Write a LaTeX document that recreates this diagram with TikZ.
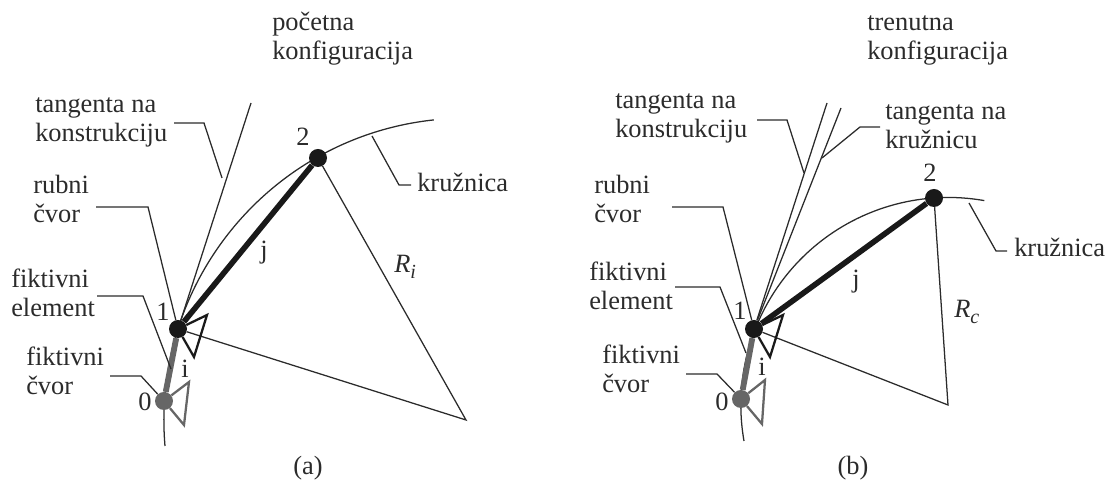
\documentclass[tikz,border=0pt]{standalone}
\usepackage{fontspec}
\setmainfont{Liberation Serif}
\usetikzlibrary{calc}
\definecolor{inkdark}{HTML}{2B2B2B}
\definecolor{inkgrey}{HTML}{666666}
\newcommand{\radlabel}[1]{\textit{R\raisebox{-4pt}{\fontsize{15}{15}\selectfont #1}}}
\tikzset{
	lbl/.style={anchor=base west, align=left, inner sep=0pt, text=inkdark, font=\fontsize{19.8}{22}\selectfont},
	num/.style={anchor=center, inner sep=0pt, text=inkdark, font=\fontsize{19.8}{22}\selectfont},
	thinline/.style={line width=0.95pt, color=inkdark},
	thickblack/.style={line width=4.2pt, color=black!90},
	thickgrey/.style={line width=4.4pt, color=inkgrey},
	triblack/.style={line width=1.7pt, color=black!90},
	trigrey/.style={line width=1.7pt, color=inkgrey},
	blackdot/.style={circle, fill=black!90, inner sep=0pt, minimum size=13.5pt},
	greydot/.style={circle, fill=inkgrey, inner sep=0pt, minimum size=13.5pt},
}

\begin{document}
\begin{tikzpicture}[x=0.75pt, y=0.75pt]
	%%%%% START %%%%%
	\useasboundingbox (0, 0) rectangle (1108, 484);

	% (a)
	\draw[thinline] (165, 38) arc (184.9:96.1:302);
	\node[greydot] (a0) at (164, 83) {};
	\node[blackdot] (a1) at (178, 155) {};
	\node[blackdot] (a2) at (318, 326) {};
	\coordinate (aCenter) at (466, 64);
	\coordinate (aTangent) at (251, 381);
	\coordinate (aT1) at (207, 169);
	\coordinate (aT2) at (194, 127);
	\coordinate (aG1) at (189, 102);
	\coordinate (aG2) at (184, 59);

	\draw[thinline] (a1) -- (aTangent);
	\draw[thinline] (a1) -- (aCenter) -- (a2);
	\draw[thickblack] (a1) -- (a2);
	\draw[thickgrey] (a0) -- (a1);
	\draw[triblack] (a1) -- (aT1) -- (aT2) -- (a1);
	\draw[trigrey] (a0) -- (aG1) -- (aG2) -- (a0);

	\node[lbl] (aTitle) at (272, 424) {početna\\konfiguracija};
	\node[lbl] (aTanK) at (35, 342) {tangenta na\\konstrukciju};
	\node[lbl] (aRub) at (33, 261) {rubni\\čvor};
	\node[lbl] (aElem) at (11, 167) {fiktivni\\element};
	\node[lbl] (aFik) at (26, 89) {fiktivni\\čvor};
	\node[lbl] (aKru) at (417, 292) {kružnica};
	\node[num] at (163, 172) (aN1) {1};
	\node[num] at (145, 82) (aN0) {0};
	\node[num] at (303, 347) (aN2) {2};
	\node[num] at (185, 115) (aI) {i};
	\node[num] at (264, 231) (aJ) {j};
	\node[num, anchor=west] at (394, 217) (aR) {\radlabel{i}};
	\node[num] at (308, 16) (aCap) {(a)};

	\coordinate (aL1) at (174, 361);
	\coordinate (aL2) at (204, 361);
	\coordinate (aL3) at (222, 306);
	\draw[thinline] (aL1) -- (aL2) -- (aL3);
	\coordinate (aL4) at (96, 277);
	\coordinate (aL5) at (148, 277);
	\draw[thinline] (aL4) -- (aL5) -- (a1);
	\coordinate (aL6) at (97, 188);
	\coordinate (aL7) at (143, 188);
	\coordinate (aL8) at (171, 115);
	\draw[thinline] (aL6) -- (aL7) -- (aL8);
	\coordinate (aL9) at (110, 108);
	\coordinate (aL10) at (141, 108);
	\draw[thinline] (aL9) -- (aL10) -- (a0);
	\coordinate (aL11) at (411, 299);
	\coordinate (aL12) at (399, 299);
	\coordinate (aL13) at (372, 348);
	\draw[thinline] (aL11) -- (aL12) -- (aL13);

	% (b)
	\draw[thinline] (744, 43) arc (190:80:207.5);
	\node[greydot] (b0) at (741, 85) {};
	\node[blackdot] (b1) at (754, 155) {};
	\node[blackdot] (b2) at (934, 286) {};
	\coordinate (bCenter) at (948, 79);
	\coordinate (bTangentK) at (827, 381);
	\coordinate (bTangentC) at (841, 376);
	\coordinate (bT1) at (783, 169);
	\coordinate (bT2) at (770, 127);
	\coordinate (bG1) at (765, 104);
	\coordinate (bG2) at (762, 60);

	\draw[thinline] (b1) -- (bTangentK);
	\draw[thinline] (b1) -- (bTangentC);
	\draw[thinline] (b1) -- (bCenter) -- (b2);
	\draw[thickblack] (b1) -- (b2);
	\draw[thickgrey] (b0) -- (b1);
	\draw[triblack] (b1) -- (bT1) -- (bT2) -- (b1);
	\draw[trigrey] (b0) -- (bG1) -- (bG2) -- (b0);

	\node[lbl] (bTitle) at (867, 424) {trenutna\\konfiguracija};
	\node[lbl] (bTanK) at (615, 346) {tangenta na\\konstrukciju};
	\node[lbl] (bTanC) at (885, 335) {tangenta na\\kružnicu};
	\node[lbl] (bRub) at (594, 261) {rubni\\čvor};
	\node[lbl] (bElem) at (589, 174) {fiktivni\\element};
	\node[lbl] (bFik) at (602, 91) {fiktivni\\čvor};
	\node[lbl] (bKru) at (1014, 227) {kružnica};
	\node[num] at (740, 173) (bN1) {1};
	\node[num] at (722, 82) (bN0) {0};
	\node[num] at (930, 311) (bN2) {2};
	\node[num] at (762, 117) (bI) {i};
	\node[num] at (856, 202) (bJ) {j};
	\node[num, anchor=west] at (954, 172) (bR) {\radlabel{c}};
	\node[num] at (853, 16) (bCap) {(b)};

	\coordinate (bL1) at (757, 364);
	\coordinate (bL2) at (787, 364);
	\coordinate (bL3) at (804, 311);
	\draw[thinline] (bL1) -- (bL2) -- (bL3);
	\coordinate (bL4) at (880, 357);
	\coordinate (bL5) at (860, 357);
	\coordinate (bL6) at (822, 326);
	\draw[thinline] (bL4) -- (bL5) -- (bL6);
	\coordinate (bL7) at (672, 277);
	\coordinate (bL8) at (723, 277);
	\draw[thinline] (bL7) -- (bL8) -- (b1);
	\coordinate (bL9) at (675, 197);
	\coordinate (bL10) at (720, 197);
	\coordinate (bL11) at (746, 131);
	\draw[thinline] (bL9) -- (bL10) -- (bL11);
	\coordinate (bL12) at (686, 110);
	\coordinate (bL13) at (717, 110);
	\draw[thinline] (bL12) -- (bL13) -- (b0);
	\coordinate (bL14) at (1007, 233);
	\coordinate (bL15) at (996, 233);
	\coordinate (bL16) at (969, 281);
	\draw[thinline] (bL14) -- (bL15) -- (bL16);
	%%%%% END %%%%%
\end{tikzpicture}
\end{document}
